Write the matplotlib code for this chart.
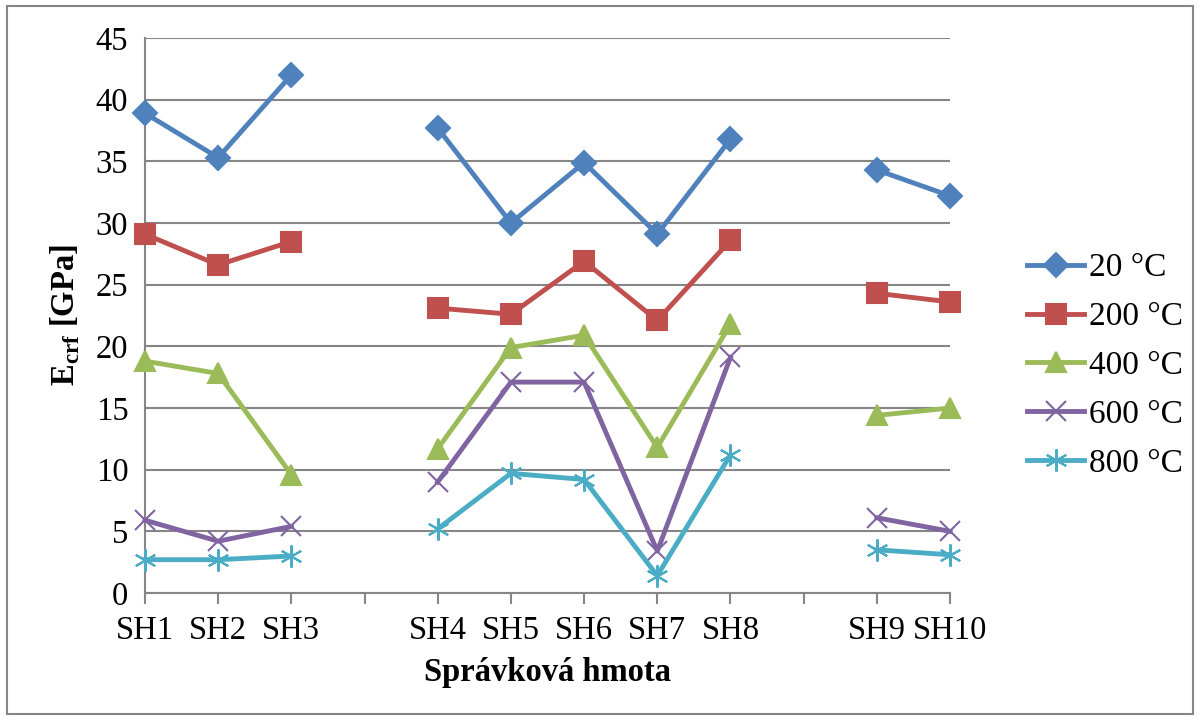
import numpy as np
import matplotlib
matplotlib.use("Agg")
import matplotlib.pyplot as plt
from matplotlib.patches import Rectangle

plt.rcParams['font.family'] = ['Liberation Serif', 'DejaVu Serif']
plt.rcParams['mathtext.fontset'] = 'custom'
plt.rcParams['mathtext.rm'] = 'Liberation Serif'
plt.rcParams['mathtext.bf'] = 'Liberation Serif:bold'

# Categories (blank slots split the groups)
categories = ['SH1', 'SH2', 'SH3', '', 'SH4', 'SH5', 'SH6', 'SH7', 'SH8', '', 'SH9', 'SH10']
nan = np.nan

e_20 = [38.9, 35.3, 42.0, nan, 37.7, 30.0, 34.9, 29.1, 36.8, nan, 34.3, 32.2]
e_200 = [29.1, 26.6, 28.5, nan, 23.1, 22.6, 26.9, 22.1, 28.6, nan, 24.3, 23.6]
e_400 = [18.8, 17.8, 9.6, nan, 11.7, 19.9, 20.9, 11.8, 21.8, nan, 14.4, 15.0]
e_600 = [5.9, 4.2, 5.4, nan, 9.0, 17.1, 17.1, 3.4, 19.1, nan, 6.1, 5.0]
e_800 = [2.7, 2.7, 3.0, nan, 5.2, 9.7, 9.2, 1.4, 11.2, nan, 3.5, 3.1]

labels = ['20 °C', '200 °C', '400 °C', '600 °C', '800 °C']
series = [e_20, e_200, e_400, e_600, e_800]
colors = ['#4F81BD', '#C0504D', '#9BBB59', '#8064A2', '#4BACC6']
markers = ['D', 's', '^', 'x', (6, 2, 0)]
msizes = [12, 14, 14, 14, 16]

fig = plt.figure(figsize=(12, 7.2), dpi=100)
ax = fig.add_axes([0.1208, 0.1764, 0.6709, 0.7708])

x = np.arange(len(categories))
for vals, lab, c, m, ms in zip(series, labels, colors, markers, msizes):
    ax.plot(x, vals, color=c, lw=3.5, marker=m, markersize=ms,
            markerfacecolor=c, markeredgecolor=c, markeredgewidth=1.5,
            label=lab, zorder=3, clip_on=False)

ax.set_xlim(0, len(categories) - 1)
ax.set_ylim(0, 45)
ax.set_yticks(np.arange(0, 46, 5))
ax.set_xticks(x)
ax.set_xticklabels(categories)
ax.grid(axis='y', color='#868686', lw=1.5)
ax.set_axisbelow(True)

for s in ['top', 'right']:
    ax.spines[s].set_visible(False)
for s in ['left', 'bottom']:
    ax.spines[s].set_color('#868686')
    ax.spines[s].set_linewidth(1.5)

ax.tick_params(axis='y', length=0, labelsize=23.5, pad=12)
ax.tick_params(axis='x', length=8, width=1.5, color='#868686',
               labelsize=23.5, pad=8, direction='out')

ax.set_xlabel('Správková hmota', fontsize=23.5, fontweight='bold', labelpad=8)
ax.set_ylabel(r'E$_{\mathbf{crf}}$ [GPa]', fontsize=23.5, fontweight='bold', labelpad=10)

leg = ax.legend(loc='center left', bbox_to_anchor=(0.845, 0.492),
                bbox_transform=fig.transFigure, frameon=False,
                fontsize=24, handlelength=1.7, handletextpad=0.15,
                labelspacing=0.55, borderaxespad=0)

fig.patches.append(Rectangle((0.006, 0.008), 0.988, 0.984, transform=fig.transFigure,
                             fill=False, edgecolor='#868686', lw=1.5))

fig.savefig('out.png', dpi=100)
